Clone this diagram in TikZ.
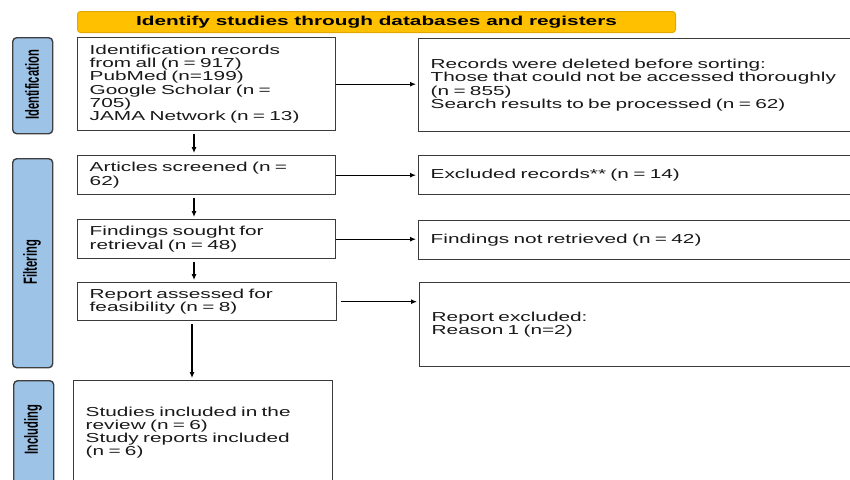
\documentclass[tikz,border=0pt]{standalone}
\usepackage{fontspec}
\setmainfont{Liberation Sans}[FakeStretch=1.6]
\newfontfamily\sidefont{Liberation Sans}[FakeStretch=0.59]
\usetikzlibrary{arrows.meta}
\definecolor{boxgray}{HTML}{3A3A3A}
\definecolor{bannerfill}{HTML}{FFC000}
\definecolor{bannerdraw}{HTML}{E0A800}
\definecolor{sidefill}{HTML}{9DC3E6}
\definecolor{sidedraw}{HTML}{3F3F3F}
\begin{document}
\begin{tikzpicture}[x=1pt,y=-1pt,
  box/.style n args={3}{draw=boxgray, line width=1.4pt, anchor=north west,
    minimum width=#1, minimum height=#2, text width=#3,
    inner xsep=12pt, inner ysep=0pt, align=left, text=black!90,
    font=\fontsize{13}{13.2}\selectfont},
  sidebox/.style n args={2}{draw=sidedraw, fill=sidefill, line width=1.4pt,
    rounded corners=4pt, anchor=north west, minimum width=#1, minimum height=#2,
    inner sep=0pt},
  sidetext/.style={rotate=90, inner sep=0pt, font=\sidefont\bfseries\fontsize{19}{19}\selectfont},
  arr/.style={-{Latex[length=6pt,width=5pt]}, line width=1.1pt, black}]
\useasboundingbox (0,0) rectangle (850,479);
\clip (0,0) rectangle (850,479);

% banner
\node[draw=bannerdraw, fill=bannerfill, line width=1pt, rounded corners=3pt,
  anchor=north west, minimum width=598pt, minimum height=21pt, inner sep=0pt,
  font=\fontsize{13}{13}\selectfont\bfseries] (banner) at (77,11)
  {Identify studies through databases and registers};

% side boxes
\node[sidebox={40pt}{96pt}] (s1) at (12,37) {};
\node[sidetext] (s1t) at (32,85) {Identification};
\node[sidebox={40pt}{209pt}] (s2) at (12,158) {};
\node[sidetext] (s2t) at (32,262) {Filtering};
\node[sidebox={40pt}{112pt}] (s3) at (13,380) {};
\node[sidetext] (s3t) at (33,430) {Including};

% left column
\node[box={258pt}{93pt}{234pt}] (b1) at (77,37)
  {Identification records\\from all (n = 917)\\PubMed (n=199)\\Google Scholar (n =\\705)\\JAMA Network (n = 13)};
\node[box={258pt}{39pt}{234pt}] (b2) at (77,155)
  {Articles screened (n =\\62)};
\node[box={258pt}{39pt}{234pt}] (b3) at (77,219)
  {Findings sought for\\retrieval (n = 48)};
\node[box={259pt}{38pt}{235pt}] (b4) at (77,282)
  {Report assessed for\\feasibility (n = 8)};
\node[box={259pt}{104pt}{235pt}] (b5) at (73,380)
  {Studies included in the\\review (n = 6)\\Study reports included\\(n = 6)};

% right column
\node[box={460pt}{93pt}{436pt}] (r1) at (418,38)
  {Records were deleted before sorting:\\Those that could not be accessed thoroughly\\(n = 855)\\Search results to be processed (n = 62)};
\node[box={460pt}{39pt}{436pt}] (r2) at (418,155)
  {Excluded records** (n = 14)};
\node[box={460pt}{39pt}{436pt}] (r3) at (418,220)
  {Findings not retrieved (n = 42)};
\node[box={460pt}{84pt}{436pt}] (r4) at (419,282)
  {Report excluded:\\Reason 1 (n=2)};

% connectors
\coordinate (xa) at (194,0);
\coordinate (xb) at (192,0);
\draw[arr, shorten <=3pt, shorten >=2pt] (b1.south -| xa) -- (b2.north -| xa);
\draw[arr, shorten <=3pt, shorten >=2pt] (b2.south -| xa) -- (b3.north -| xa);
\draw[arr, shorten <=3pt, shorten >=2pt] (b3.south -| xa) -- (b4.north -| xa);
\draw[arr, shorten <=3pt, shorten >=2pt] (b4.south -| xb) -- (b5.north -| xb);

\draw[arr, shorten >=2pt] (b1.east) -- (b1.east -| r1.west);
\draw[arr, shorten >=2pt] (b2.east) -- (b2.east -| r2.west);
\draw[arr, shorten >=2pt] (b3.east) -- (b3.east -| r3.west);
\draw[arr, shorten <=4pt, shorten >=2pt] (b4.east) -- (b4.east -| r4.west);
\end{tikzpicture}
\end{document}
